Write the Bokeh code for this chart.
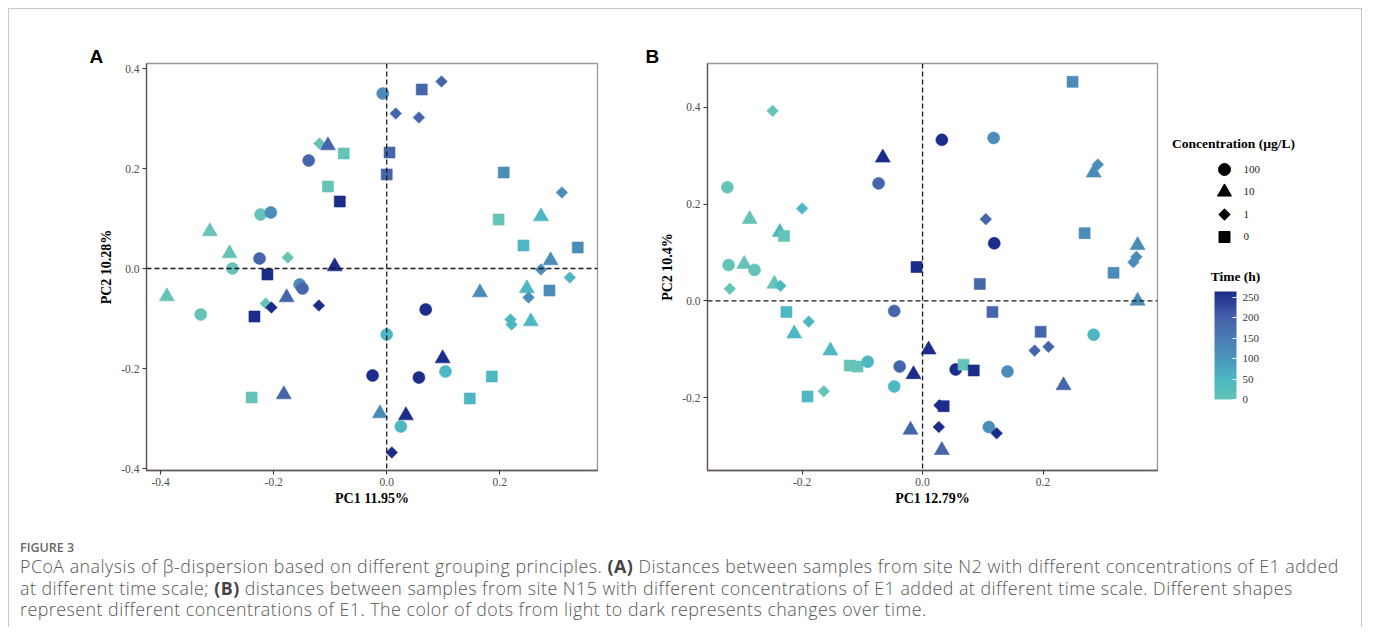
import numpy as np
from bokeh.plotting import figure
from bokeh.models import (Range1d, Span, Label, FixedTicker, PrintfTickFormatter,
                          ColumnDataSource, LinearColorMapper, ColorBar, Div)
from bokeh.layouts import row, column
from bokeh.transform import transform
from bokeh.core.properties import value
from bokeh.embed import file_html
from bokeh.resources import INLINE

# ---------------- data ----------------
conc_levels = ["100", "10", "1", "0"]          # legend order (top to bottom)
time_ticks = [0, 50, 100, 150, 200, 250]
time_max = 264

# Panel A (site N2)
a_pc1 = [-0.119, -0.104, -0.076, -0.138, -0.104, -0.083, -0.223, -0.205, -0.313, -0.278,
         -0.225, -0.175, -0.273, -0.211, -0.092, -0.389, -0.329, -0.154, -0.149, -0.177,
         -0.214, -0.204, -0.120, -0.234, -0.239, -0.182, -0.007, 0.062, 0.097, 0.016,
         0.057, 0.005, 0.000, 0.207, 0.310, 0.198, 0.273, 0.242, 0.338, 0.290,
         0.273, 0.324, 0.165, 0.248, 0.251, 0.288, 0.219, 0.221, 0.255, 0.069,
         0.000, 0.099, 0.104, -0.025, 0.057, 0.186, 0.147, -0.012, 0.034, 0.025, 0.009]
a_pc2 = [0.250, 0.246, 0.230, 0.216, 0.164, 0.134, 0.108, 0.112, 0.074, 0.030,
         0.020, 0.022, 0.000, -0.012, 0.004, -0.056, -0.092, -0.032, -0.040, -0.058,
         -0.070, -0.078, -0.074, -0.096, -0.258, -0.252, 0.350, 0.358, 0.374, 0.310,
         0.302, 0.232, 0.188, 0.192, 0.152, 0.098, 0.104, 0.046, 0.042, 0.016,
         -0.002, -0.018, -0.048, -0.040, -0.058, -0.044, -0.102, -0.112, -0.106, -0.082,
         -0.132, -0.180, -0.206, -0.214, -0.218, -0.216, -0.260, -0.290, -0.294, -0.316, -0.368]
a_conc = ["1", "10", "0", "100", "0", "0", "100", "100", "10", "10",
          "100", "1", "100", "0", "10", "10", "100", "100", "100", "10",
          "1", "1", "1", "0", "0", "10", "100", "0", "1", "1",
          "1", "0", "0", "0", "1", "0", "10", "0", "0", "10",
          "1", "1", "10", "10", "1", "0", "1", "1", "10", "100",
          "100", "10", "100", "100", "100", "0", "0", "10", "10", "100", "1"]
a_time = [0, 192, 0, 192, 0, 264, 0, 120, 0, 0,
          192, 0, 0, 264, 264, 0, 0, 120, 192, 192,
          0, 264, 264, 264, 0, 192, 120, 192, 192, 192,
          192, 192, 192, 120, 120, 0, 48, 48, 120, 120,
          120, 48, 120, 48, 120, 120, 48, 48, 48, 264,
          48, 264, 48, 264, 264, 48, 48, 120, 264, 48, 264]

# Panel B (site N15)
b_pc1 = [-0.249, -0.066, -0.073, -0.324, -0.200, -0.287, -0.237, -0.230, -0.322, -0.296,
         -0.279, -0.320, -0.246, -0.236, -0.226, -0.189, -0.213, -0.153, -0.121, -0.108,
         -0.091, -0.191, -0.164, -0.047, -0.038, -0.047, -0.015, -0.020, 0.249, 0.032,
         0.118, 0.291, 0.284, 0.105, 0.119, 0.269, 0.357, 0.355, 0.350, -0.010,
         0.317, 0.095, 0.357, 0.116, 0.196, 0.284, 0.186, 0.209, 0.010, 0.055,
         0.068, 0.085, 0.141, 0.234, 0.028, 0.035, 0.027, 0.110, 0.123, 0.032]
b_pc2 = [0.393, 0.296, 0.243, 0.235, 0.191, 0.169, 0.142, 0.134, 0.074, 0.076,
         0.064, 0.025, 0.035, 0.031, -0.023, -0.043, -0.068, -0.103, -0.134, -0.136,
         -0.126, -0.198, -0.187, -0.021, -0.136, -0.177, -0.152, -0.267, 0.453, 0.333,
         0.337, 0.282, 0.265, 0.169, 0.119, 0.140, 0.115, 0.091, 0.080, 0.070,
         0.058, 0.035, 0.000, -0.023, -0.064, -0.070, -0.103, -0.095, -0.101, -0.142,
         -0.132, -0.144, -0.146, -0.175, -0.216, -0.218, -0.261, -0.261, -0.274, -0.309]
b_conc = ["1", "10", "100", "100", "1", "10", "10", "0", "100", "10",
          "100", "1", "10", "1", "0", "1", "10", "10", "0", "0",
          "100", "0", "1", "100", "100", "100", "10", "10", "0", "100",
          "100", "1", "10", "1", "100", "0", "10", "1", "1", "0",
          "0", "0", "10", "0", "0", "100", "1", "1", "10", "100",
          "0", "0", "100", "10", "1", "0", "1", "100", "1", "10"]
b_time = [0, 264, 192, 0, 48, 0, 48, 0, 0, 0,
          0, 0, 0, 48, 48, 48, 48, 48, 0, 0,
          48, 48, 0, 192, 192, 48, 264, 192, 120, 264,
          120, 120, 120, 192, 264, 120, 120, 120, 120, 264,
          120, 192, 120, 192, 192, 48, 192, 192, 264, 264,
          0, 264, 120, 192, 264, 264, 264, 120, 264, 192]

# ---------------- styles ----------------
SERIF = "Liberation Serif"
marker_of = {"100": "circle", "10": "triangle", "1": "square", "0": "square"}
size_of = {"100": 12, "10": 15, "1": 8.2, "0": 11}
angle_of = {"100": 0.0, "10": 0.0, "1": np.pi / 4, "0": 0.0}
leg_size_of = {"100": 12, "10": 14, "1": 8, "0": 11}

anchor_vals = [0, 50, 100, 150, 200, 264]
anchor_cols = ["#66c3b7", "#4cb6c4", "#4b97bd", "#4a7cb3", "#4562aa", "#1b2c8b"]
rgb = np.array([[int(c[i:i + 2], 16) for i in (1, 3, 5)] for c in anchor_cols], dtype=float)
pal = ["#%02x%02x%02x" % tuple(int(round(np.interp(v, anchor_vals, rgb[:, k]))) for k in range(3))
       for v in np.linspace(0, time_max, 256)]
mapper = LinearColorMapper(palette=pal, low=0, high=time_max)

FIG_H = 510
TOP = 54
BOTTOM = 49


def make_panel(pc1, pc2, conc, time, xr, yr, xticks, yticks, xlabel, ylabel,
               width, mbl, mbr, letter, letter_off):
    p = figure(width=width, height=FIG_H, x_range=Range1d(*xr), y_range=Range1d(*yr),
               output_backend="svg", toolbar_location=None,
               min_border_left=mbl, min_border_right=mbr,
               min_border_top=TOP, min_border_bottom=BOTTOM,
               background_fill_color="white", border_fill_color="white",
               outline_line_color="#9c9696", outline_line_width=1.3)
    p.grid.visible = False
    for ax, ticks, lab, st in ((p.xaxis[0], xticks, xlabel, 2), (p.yaxis[0], yticks, ylabel, 4)):
        ax.ticker = FixedTicker(ticks=ticks)
        ax.formatter = PrintfTickFormatter(format="%.1f")
        ax.minor_tick_line_color = None
        ax.major_tick_in = 0
        ax.major_tick_out = 4
        ax.major_tick_line_color = "#333333"
        ax.axis_line_color = "#5e5252"
        ax.axis_line_width = 1.3
        ax.major_label_text_font = SERIF
        ax.major_label_text_font_size = "11.5px"
        ax.major_label_text_color = "#4d4d4d"
        ax.major_label_standoff = 3
        ax.axis_label = lab
        ax.axis_label_text_font = SERIF
        ax.axis_label_text_font_style = "bold"
        ax.axis_label_text_font_size = "14px"
        ax.axis_label_text_color = "#000000"
        ax.axis_label_standoff = st
    p.add_layout(Span(location=0, dimension="height", line_dash="5 3",
                      line_color="#1a1a1a", line_width=1.3))
    p.add_layout(Span(location=0, dimension="width", line_dash="5 3",
                      line_color="#1a1a1a", line_width=1.3))
    src = ColumnDataSource(dict(
        pc1=pc1, pc2=pc2, time=time, conc=conc,
        marker=[marker_of[c] for c in conc],
        size=[size_of[c] for c in conc],
        angle=[angle_of[c] for c in conc]))
    p.scatter(x="pc1", y="pc2", marker="marker", size="size", angle="angle", source=src,
              fill_color=transform("time", mapper), line_color=transform("time", mapper),
              line_width=0.6)
    p.title.text = letter
    p.title.align = "left"
    p.title.offset = letter_off
    p.title.text_font = "Liberation Sans"
    p.title.text_font_style = "bold"
    p.title.text_font_size = "19px"
    p.title.text_color = "#000000"
    p.title.vertical_align = "bottom"
    p.title.standoff = -6
    return p


pA = make_panel(a_pc1, a_pc2, a_conc, a_time, (-0.425, 0.373), (-0.404, 0.41),
                [-0.4, -0.2, 0.0, 0.2], [-0.4, -0.2, 0.0, 0.2, 0.4],
                "PC1 11.95%", "PC2 10.28%", 620, 137, 32, "A", -57)
pB = make_panel(b_pc1, b_pc2, b_conc, b_time, (-0.357, 0.390), (-0.351, 0.491),
                [-0.2, 0.0, 0.2], [-0.2, 0.0, 0.2, 0.4],
                "PC1 12.79%", "PC2 10.4%", 531, 78, 3, "B", -62)

# ---------------- legend panel ----------------
LEG_W = 201
pL = figure(width=LEG_W, height=FIG_H, x_range=Range1d(-64, LEG_W - 64),
            y_range=Range1d(-10.378, 7.711), x_axis_type=None, y_axis_type=None,
            output_backend="svg", toolbar_location=None,
            min_border_left=0, min_border_right=0,
            min_border_top=TOP, min_border_bottom=BOTTOM,
            outline_line_color=None, background_fill_color="white", border_fill_color="white")
n = len(conc_levels)
leg = ColumnDataSource(dict(
    x=[0] * n, y=list(range(n - 1, -1, -1)), label=conc_levels,
    marker=[marker_of[c] for c in conc_levels],
    size=[leg_size_of[c] for c in conc_levels],
    angle=[angle_of[c] for c in conc_levels]))
pL.scatter(x="x", y="y", marker="marker", size="size", angle="angle", source=leg,
           fill_color="black", line_color="black")
pL.text(x="x", y="y", text="label", source=leg, x_offset=19, text_align="left",
        text_baseline="middle", text_font=value(SERIF), text_font_size="11px",
        text_color="#222222")
pL.add_layout(Label(x=73, y=327, x_units="screen", y_units="screen",
                    text="Concentration (µg/L)", text_align="center", text_baseline="middle",
                    text_font=SERIF, text_font_style="bold", text_font_size="13.5px",
                    text_color="#000000"))
pL.add_layout(Label(x=75, y=194, x_units="screen", y_units="screen",
                    text="Time (h)", text_align="center", text_baseline="middle",
                    text_font=SERIF, text_font_style="bold", text_font_size="13.5px",
                    text_color="#000000"))
cb = ColorBar(color_mapper=mapper, ticker=FixedTicker(ticks=time_ticks),
              width=22, height=108, location=(54, 71), orientation="vertical",
              padding=0, margin=0, label_standoff=6,
              major_label_text_font=SERIF, major_label_text_font_size="11px",
              major_label_text_color="#333333",
              major_tick_line_color="white", major_tick_in=4, major_tick_out=0,
              minor_tick_line_color=None, bar_line_color=None, border_line_color=None,
              background_fill_color=None)
pL.add_layout(cb)

# ---------------- caption ----------------
caption = Div(
    width=620 + 531 + LEG_W, height=108, margin=0,
    text=(
        '<div style="padding:21px 0 0 11px; font-family:\'Open Sans\', sans-serif; '
        'color:#555555; white-space:nowrap;">'
        '<div style="font-size:12.5px; line-height:16px; font-weight:600; color:#666666;">'
        'FIGURE 3</div>'
        '<div style="font-size:17.8px; line-height:21.5px; letter-spacing:0.5px; '
        'font-weight:300;">'
        'PCoA analysis of β-dispersion based on different grouping principles. '
        '<b style="color:#444444; font-weight:700;">(A)</b> Distances between samples from site N2 '
        'with different concentrations of E1 added<br>'
        'at different time scale; <b style="color:#444444; font-weight:700;">(B)</b> distances '
        'between samples from site N15 with different concentrations of E1 added at different '
        'time scale. Different shapes<br>'
        'represent different concentrations of E1. The color of dots from light to dark '
        'represents changes over time.'
        '</div></div>'))

layout = column(row(pA, pB, pL), caption,
                styles={"border": "1px solid #c8c8c8", "border-bottom": "none",
                        "margin": "8px 0 0 8px"})

open("out.html", "w").write(file_html(layout, INLINE))
